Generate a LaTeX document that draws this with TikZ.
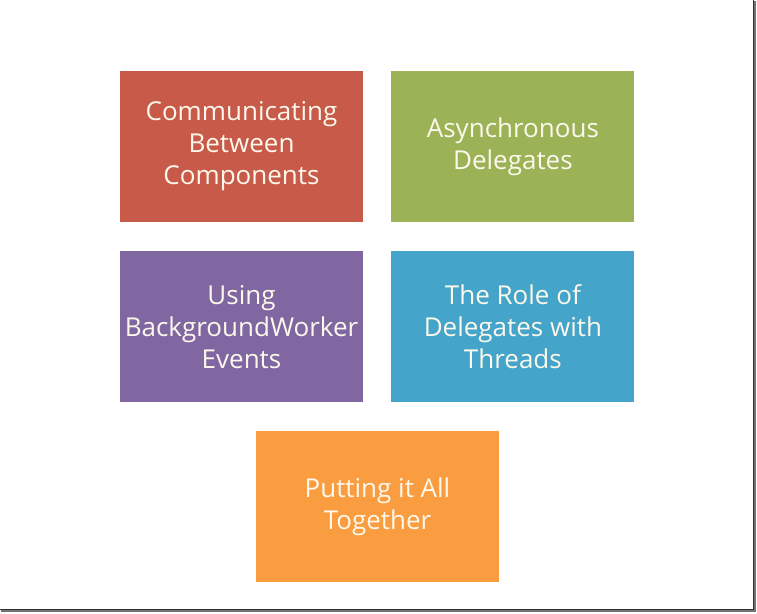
\documentclass[tikz,border=0pt]{standalone}
\usepackage{fontspec}
\setmainfont{Open Sans}
\usetikzlibrary{positioning}
\definecolor{topicred}{RGB}{200,90,74}
\definecolor{topicgreen}{RGB}{155,179,86}
\definecolor{topicpurple}{RGB}{128,103,162}
\definecolor{topicblue}{RGB}{68,164,201}
\definecolor{topicorange}{RGB}{250,156,64}
\definecolor{topictext}{RGB}{252,248,236}

\begin{document}
\begin{tikzpicture}[x=1pt,y=-1pt,
  topic/.style={minimum width=243pt,minimum height=151pt,inner sep=0pt,align=center,
    text=topictext,font=\fontsize{26}{32}\selectfont}]
\useasboundingbox (0,0) rectangle (757,613);
\fill[white] (0,0) rectangle (753,609);
\fill[black!55] (753,1) rectangle (756,612);
\fill[black!55] (1,609) rectangle (756,612);
\draw[black!80,line width=0.8pt] (753,0) -- (753,609) -- (0,609);
\node[topic,fill=topicred] (comm) at (241.5,146.5) {Communicating\\Between\\Components};
\node[topic,fill=topicgreen,right=28pt of comm] (async) {Asynchronous\\Delegates};
\node[topic,fill=topicpurple,below=29pt of comm] (worker) {Using\\BackgroundWorker\\Events};
\node[topic,fill=topicblue,below=29pt of async] (role) {The Role of\\Delegates with\\Threads};
\node[topic,fill=topicorange] (together) at (377.5,506.5) {Putting it All\\Together};
\end{tikzpicture}
\end{document}
